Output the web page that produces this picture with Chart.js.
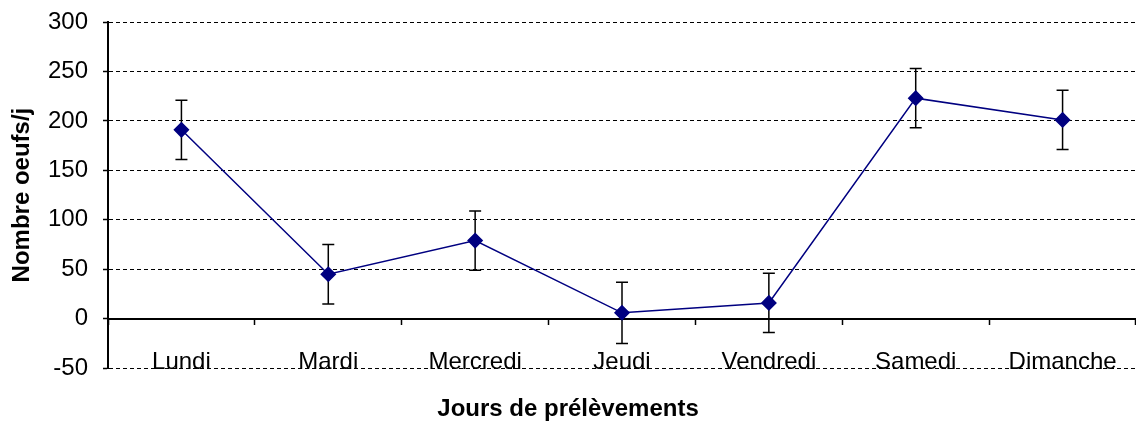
<!DOCTYPE html>
<html>
<head>
<meta charset="utf-8">
<script src="https://cdn.jsdelivr.net/npm/chart.js@4/dist/chart.umd.min.js"></script>
<style>
  html, body { margin: 0; padding: 0; background: #fff; }
  #wrap { width: 1136px; height: 424px; position: relative; }
</style>
</head>
<body>
<div id="wrap"><canvas id="chart"></canvas></div>
<script>
const days = ["Lundi", "Mardi", "Mercredi", "Jeudi", "Vendredi", "Samedi", "Dimanche"];
const eggs = [191, 45, 79, 6, 16, 223, 201];
const errs = [30, 30, 30, 31, 30, 30, 30];

const yMin = -50;
const yMax = 300;
const yStep = 50;

// error bars drawn under the markers, through the chart's own scales
const errorBars = {
  id: "errorBars",
  beforeDatasetsDraw(chart) {
    const { ctx, scales: { x, y } } = chart;
    ctx.save();
    ctx.strokeStyle = "#000";
    ctx.lineWidth = 1.5;
    eggs.forEach((v, i) => {
      const px = x.getPixelForValue(i);
      const top = y.getPixelForValue(v + errs[i]);
      const bot = y.getPixelForValue(v - errs[i]);
      ctx.beginPath();
      ctx.moveTo(px, top);
      ctx.lineTo(px, bot);
      ctx.moveTo(px - 6, top);
      ctx.lineTo(px + 6, top);
      ctx.moveTo(px - 6, bot);
      ctx.lineTo(px + 6, bot);
      ctx.stroke();
    });
    ctx.restore();
  },
};

const font = "'Liberation Sans', Arial, sans-serif";

new Chart(document.getElementById("chart"), {
  type: "line",
  data: {
    labels: days,
    datasets: [
      {
        data: eggs,
        borderColor: "#000080",
        borderWidth: 1.5,
        backgroundColor: "#000080",
        pointStyle: "rectRot",
        pointRadius: 7,
        pointBackgroundColor: "#000080",
        pointBorderColor: "#000080",
        tension: 0,
        fill: false,
      },
    ],
  },
  options: {
    responsive: true,
    maintainAspectRatio: false,
    animation: false,
    layout: { autoPadding: false, padding: { top: 22, right: 0, left: 0, bottom: 0 } },
    plugins: {
      legend: { display: false },
      tooltip: { enabled: false },
      title: {
        display: true,
        position: "bottom",
        text: "Jours de prélèvements",
        color: "#000",
        font: { family: font, size: 24, weight: "bold" },
        padding: { top: 27, bottom: 0 },
      },
    },
    scales: {
      x: {
        position: { y: 0 },
        offset: true,
        grid: {
          offset: true,
          drawOnChartArea: false,
          drawTicks: true,
          tickLength: 5,
          tickColor: "#000",
          tickWidth: 1.5,
        },
        border: { display: true, color: "#000", width: 2 },
        ticks: {
          color: "#000",
          padding: 24,
          maxRotation: 0,
          autoSkip: false,
          font: { family: font, size: 24 },
        },
        afterFit(scale) {
          scale.paddingLeft = 0;
          scale.paddingRight = 0;
        },
      },
      y: {
        min: yMin,
        max: yMax,
        ticks: {
          stepSize: yStep,
          color: "#000",
          padding: 15,
          font: { family: font, size: 24 },
        },
        grid: {
          color: (c) => (c.tick && c.tick.value === 0 ? "rgba(0,0,0,0)" : "#000"),
          lineWidth: 1,
          tickLength: 5,
          tickColor: "#000",
          tickWidth: 1.5,
          tickBorderDash: [],
        },
        border: { display: true, color: "#000", width: 2, dash: [4, 3] },
        title: {
          display: true,
          text: "Nombre oeufs/j",
          color: "#000",
          font: { family: font, size: 24, weight: "bold" },
          padding: { top: 8, bottom: 0 },
        },
        afterFit(scale) {
          scale.width = 108;
          scale.paddingTop = 0;
          scale.paddingBottom = 0;
        },
      },
    },
  },
  plugins: [errorBars],
});
</script>
</body>
</html>
